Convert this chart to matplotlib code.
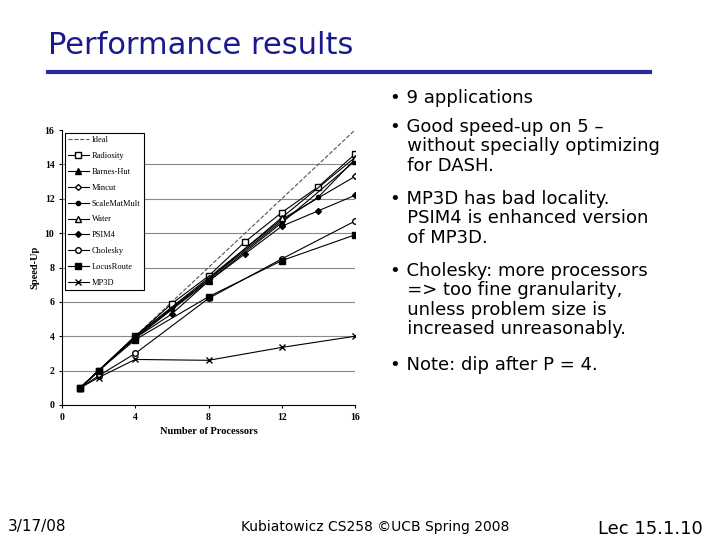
import matplotlib.pyplot as plt

# speed-up data
procs_ideal = [1, 16]
ideal = [1, 16]
radiosity_p = [1, 2, 4, 6, 8, 10, 12, 14, 16]
radiosity = [1, 2, 4, 5.9, 7.5, 9.5, 11.2, 12.7, 14.6]
barnes_p = [1, 2, 4, 8, 12, 16]
barnes = [1, 2, 3.9, 7.2, 10.6, 14.2]
mincut_p = [1, 2, 4, 8, 12, 16]
mincut = [1, 2, 4, 7.4, 10.8, 13.3]
scale_p = [1, 2, 4, 6, 8, 12, 14, 16]
scale = [1, 2, 3.9, 5.6, 7.3, 10.7, 12.1, 14.3]
water_p = [1, 2, 4, 8, 12, 16]
water = [1, 2, 4, 7.3, 10.9, 14.4]
psim4_p = [1, 2, 4, 6, 8, 10, 12, 14, 16]
psim4 = [1, 2, 3.9, 5.3, 7.2, 8.8, 10.4, 11.3, 12.2]
chol_p = [1, 2, 4, 8, 12, 16]
chol = [1, 1.7, 3.0, 6.2, 8.5, 10.7]
locus_p = [1, 2, 4, 8, 12, 16]
locus = [1, 2, 3.8, 6.3, 8.4, 9.9]
mp3d_p = [1, 2, 4, 8, 12, 16]
mp3d = [1, 1.6, 2.65, 2.6, 3.35, 4.0]

bullets = [
    "• 9 applications",
    "• Good speed-up on 5 –\n   without specially optimizing\n   for DASH.",
    "• MP3D has bad locality.\n   PSIM4 is enhanced version\n   of MP3D.",
    "• Cholesky: more processors\n   => too fine granularity,\n   unless problem size is\n   increased unreasonably.",
    "• Note: dip after P = 4.",
]

fig = plt.figure(figsize=(7.2, 5.4), dpi=100)
fig.text(48 / 720, 1 - 46 / 540, "Performance results", fontsize=22, color="#1a1a8c",
         va="center", family="DejaVu Sans")
fig.add_artist(plt.Line2D([48 / 720, 650 / 720], [1 - 72 / 540] * 2, color="#2a2a9c", lw=3))

ax = fig.add_axes([62 / 720, 1 - 405 / 540, 293 / 720, 275 / 540])
for y in range(2, 16, 2):
    ax.axhline(y, color="#888888", lw=0.8, zorder=0)
ms = 4
ax.plot(procs_ideal, ideal, "--", color="#555555", lw=0.8, label="Ideal")
ax.plot(radiosity_p, radiosity, "-s", color="k", mfc="white", ms=ms, lw=0.8, label="Radiosity")
ax.plot(barnes_p, barnes, "-^", color="k", ms=ms, lw=0.8, label="Barnes-Hut")
ax.plot(mincut_p, mincut, "-D", color="k", mfc="white", ms=ms - 1, lw=0.8, label="Mincut")
ax.plot(scale_p, scale, "-o", color="k", ms=ms - 1, lw=0.8, label="ScaleMatMult")
ax.plot(water_p, water, "-^", color="k", mfc="white", ms=ms, lw=0.8, label="Water")
ax.plot(psim4_p, psim4, "-D", color="k", ms=ms - 1, lw=0.8, label="PSIM4")
ax.plot(chol_p, chol, "-o", color="k", mfc="white", ms=ms, lw=0.8, label="Cholesky")
ax.plot(locus_p, locus, "-s", color="k", ms=ms, lw=0.8, label="LocusRoute")
ax.plot(mp3d_p, mp3d, "-x", color="k", ms=ms, lw=0.8, label="MP3D")
ax.set_xlim(0, 16)
ax.set_ylim(0, 16)
ax.set_xticks([0, 4, 8, 12, 16])
ax.set_yticks(range(0, 17, 2))
for s in ["top", "right"]:
    ax.spines[s].set_visible(False)
ax.tick_params(labelsize=7, length=2)
for t in ax.get_xticklabels() + ax.get_yticklabels():
    t.set_family("Liberation Serif")
    t.set_fontweight("bold")
ax.set_xlabel("Number of Processors", fontsize=7.5, family="Liberation Serif", fontweight="bold")
ax.set_ylabel("Speed-Up", fontsize=7.5, family="Liberation Serif", fontweight="bold")
leg = ax.legend(loc="upper left", prop={"family": "Liberation Serif", "size": 6},
                fancybox=False, edgecolor="k", framealpha=1, handlelength=2.5,
                handletextpad=0.4, borderaxespad=0.3, labelspacing=0.95)
leg.get_frame().set_linewidth(0.8)

y = 89
for b in bullets:
    fig.text(390 / 720, 1 - y / 540, b, fontsize=13, va="top", linespacing=1.1,
             family="DejaVu Sans")
    y += 29 + 21.5 * b.count("\n")

fig.text(8 / 720, 1 - 527 / 540, "3/17/08", fontsize=11, va="center")
fig.text(375 / 720, 1 - 527 / 540, "Kubiatowicz CS258 ©UCB Spring 2008", fontsize=10,
         va="center", ha="center")
fig.text(650 / 720, 1 - 529 / 540, "Lec 15.1.10", fontsize=13, va="center", ha="center")

fig.savefig("out.png", dpi=100)
